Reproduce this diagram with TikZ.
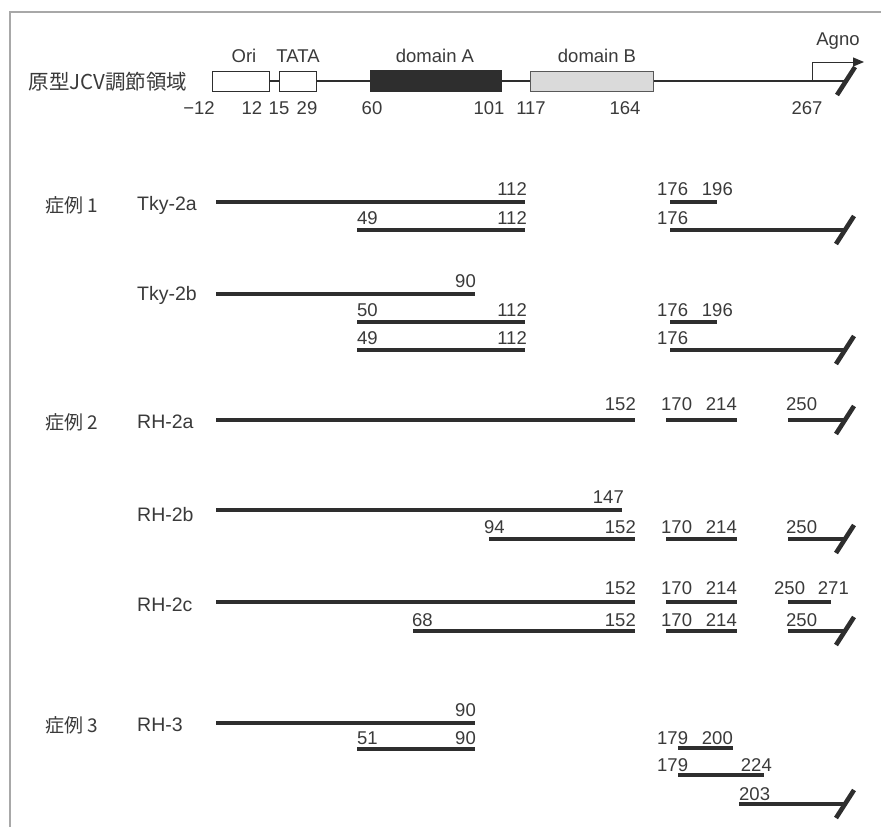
\documentclass[tikz,border=0pt]{standalone}
\usepackage{fontspec}
\setmainfont{Liberation Sans}
\newfontfamily\cjk{Noto Sans CJK JP}
\usetikzlibrary{arrows.meta}
\definecolor{ink}{HTML}{2E2E2E}
\definecolor{txt}{HTML}{3A3A3A}
\definecolor{framec}{HTML}{A8A8A8}
\definecolor{domBfill}{HTML}{DADADA}
\tikzset{
  fragline/.style={line width=4.2pt, draw=ink},
  cutmark/.style={line width=4.6pt, draw=ink},
  num/.style={inner sep=0pt, text=txt, font=\fontsize{18.5}{19}\selectfont},
  rowname/.style={inner sep=0pt, text=txt, anchor=west, font=\fontsize{19.5}{20}\selectfont},
  casename/.style={inner sep=0pt, text=txt, font=\cjk\fontsize{19}{20}\selectfont},
  hbox/.style={draw=ink, line width=0.9pt, inner sep=0pt, anchor=west, minimum height=20pt},
}
% name, x1, x2, y
\newcommand\frg[4]{\coordinate (#1a) at (#2,#4);\coordinate (#1b) at (#3,#4);\draw[fragline] (#1a) -- (#1b);}
\newcommand\cutend[1]{\draw[cutmark] ([shift={(-9,14)}]#1) -- ([shift={(9,-14)}]#1);}
% name, anchor side, x, y, text
\newcommand\lnum[5]{\node[num, anchor=base #2] (#1) at (#3,#4) {#5};}
\begin{document}
\begin{tikzpicture}[x=1pt,y=-1pt]
\useasboundingbox (0,0) rectangle (881,827);
\fill[white] (0,0) rectangle (881,827);
% frame
\coordinate (fTL) at (10,12);
\coordinate (fTR) at (881,12);
\coordinate (fBL) at (10,827);
\draw[framec, line width=1.6pt] (fTR) -- (fTL) -- (fBL);

% ---------- header ----------
\node[casename, font=\cjk\fontsize{20.5}{21}\selectfont] (hdr) at (108,82) {原型JCV調節領域};
\coordinate (hS) at (268,81);
\coordinate (hE) at (846,81);
\draw[ink, line width=2pt] (hS) -- (hE);
\node[hbox, fill=white, minimum width=57pt] (ori) at (212,81) {};
\node[hbox, fill=white, minimum width=37pt] (tata) at (279,81) {};
\node[hbox, fill=ink, minimum width=131pt, minimum height=21pt] (domA) at (370,81) {};
\node[hbox, fill=domBfill, draw=ink!80, minimum width=123pt] (domB) at (530,81) {};
\cutend{hE}
\coordinate (agS) at (812,81);
\coordinate (agE) at (864,62);
\draw[ink, line width=1pt, -{Triangle[length=11pt,width=9pt]}] (agS) |- (agE);
\node[num] (agno) at (838,41) {Agno};
\node[num] (oriL) at (244,56) {Ori};
\node[num] (tataL) at (298,56) {TATA};
\node[num] (domAL) at (435,56) {domain A};
\node[num] (domBL) at (597,56) {domain B};
\node[num] (h1) at (199,108) {−12};
\node[num] (h2) at (252,108) {12};
\node[num] (h3) at (279,108) {15};
\node[num] (h4) at (307,108) {29};
\node[num] (h5) at (372,108) {60};
\node[num] (h6) at (489,108) {101};
\node[num] (h7) at (531,108) {117};
\node[num] (h8) at (625,108) {164};
\node[num] (h9) at (807,108) {267};

% ---------- case 1 ----------
\node[casename] (c1) at (72,205) {症例 1};
\node[rowname] (t2a) at (137,205) {Tky-2a};
\frg{a1}{216}{525}{202}
\lnum{a1r}{east}{527}{195}{112}
\frg{a2}{670}{717}{202}
\lnum{a2l}{west}{657}{195}{176}
\lnum{a2r}{east}{733}{195}{196}
\frg{a3}{357}{525}{230}
\lnum{a3l}{west}{357}{224}{49}
\lnum{a3r}{east}{527}{224}{112}
\frg{a4}{670}{845}{230}
\lnum{a4l}{west}{657}{224}{176}
\cutend{a4b}

\node[rowname] (t2b) at (137,295) {Tky-2b};
\frg{b1}{216}{475}{294}
\lnum{b1r}{east}{476}{287}{90}
\frg{b2}{357}{525}{322}
\lnum{b2l}{west}{357}{316}{50}
\lnum{b2r}{east}{527}{316}{112}
\frg{b3}{670}{717}{322}
\lnum{b3l}{west}{657}{316}{176}
\lnum{b3r}{east}{733}{316}{196}
\frg{b4}{357}{525}{350}
\lnum{b4l}{west}{357}{344}{49}
\lnum{b4r}{east}{527}{344}{112}
\frg{b5}{670}{845}{350}
\lnum{b5l}{west}{657}{344}{176}
\cutend{b5b}

% ---------- case 2 ----------
\node[casename] (c2) at (72,422) {症例 2};
\node[rowname] (r2a) at (137,422) {RH-2a};
\frg{c1}{216}{635}{420}
\lnum{c1r}{east}{636}{410}{152}
\frg{c2}{666}{737}{420}
\lnum{c2l}{west}{661}{410}{170}
\lnum{c2r}{east}{737}{410}{214}
\frg{c3}{788}{845}{420}
\lnum{c3l}{west}{786}{410}{250}
\cutend{c3b}

\node[rowname] (r2b) at (137,515) {RH-2b};
\frg{d1}{216}{622}{510}
\lnum{d1r}{east}{624}{503}{147}
\frg{d2}{489}{635}{539}
\lnum{d2l}{west}{484}{533}{94}
\lnum{d2r}{east}{636}{533}{152}
\frg{d3}{666}{737}{539}
\lnum{d3l}{west}{661}{533}{170}
\lnum{d3r}{east}{737}{533}{214}
\frg{d4}{788}{845}{539}
\lnum{d4l}{west}{786}{533}{250}
\cutend{d4b}

\node[rowname] (r2c) at (137,605) {RH-2c};
\frg{e1}{216}{635}{602}
\lnum{e1r}{east}{636}{594}{152}
\frg{e2}{666}{737}{602}
\lnum{e2l}{west}{661}{594}{170}
\lnum{e2r}{east}{737}{594}{214}
\frg{e3}{788}{831}{602}
\lnum{e3l}{west}{774}{594}{250}
\lnum{e3r}{east}{849}{594}{271}
\frg{e4}{413}{635}{631}
\lnum{e4l}{west}{412}{626}{68}
\lnum{e4r}{east}{636}{626}{152}
\frg{e5}{666}{737}{631}
\lnum{e5l}{west}{661}{626}{170}
\lnum{e5r}{east}{737}{626}{214}
\frg{e6}{788}{845}{631}
\lnum{e6l}{west}{786}{626}{250}
\cutend{e6b}

% ---------- case 3 ----------
\node[casename] (c3n) at (72,725) {症例 3};
\node[rowname] (r3) at (137,725) {RH-3};
\frg{f1}{216}{475}{723}
\lnum{f1r}{east}{476}{716}{90}
\frg{f2}{357}{475}{749}
\lnum{f2l}{west}{357}{744}{51}
\lnum{f2r}{east}{476}{744}{90}
\frg{f3}{678}{733}{748}
\lnum{f3l}{west}{657}{744}{179}
\lnum{f3r}{east}{733}{744}{200}
\frg{f4}{678}{764}{775}
\lnum{f4l}{west}{657}{771}{179}
\lnum{f4r}{east}{772}{771}{224}
\frg{f5}{739}{845}{804}
\lnum{f5l}{west}{739}{800}{203}
\cutend{f5b}
\end{tikzpicture}
\end{document}
